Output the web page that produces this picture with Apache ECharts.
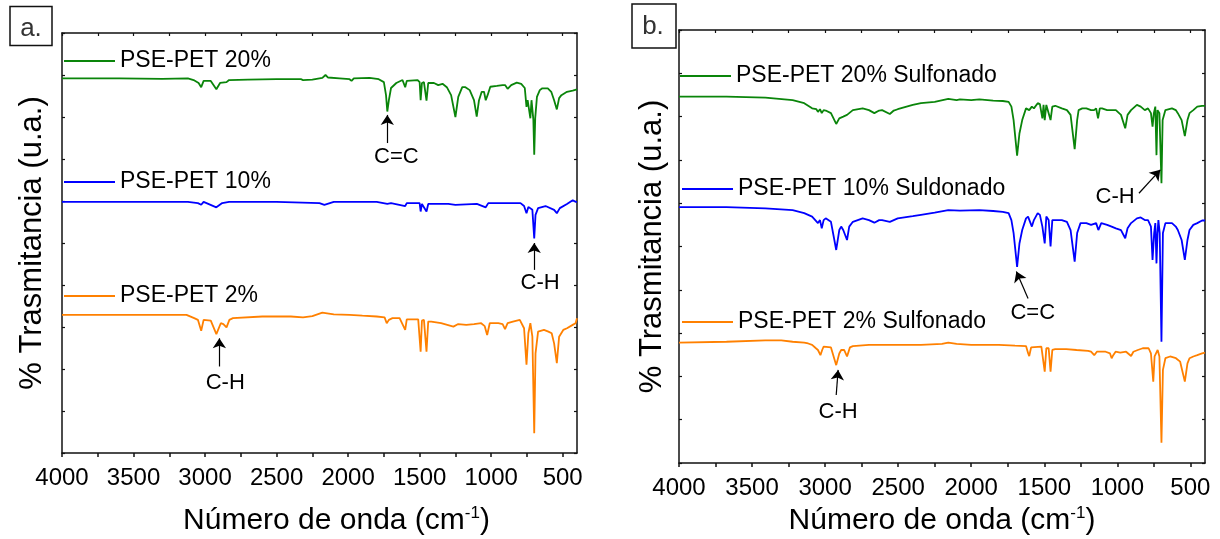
<!DOCTYPE html>
<html>
<head>
<meta charset="utf-8">
<script src="https://cdn.jsdelivr.net/npm/echarts@6/dist/echarts.min.js"></script>
<style>
html,body{margin:0;padding:0;background:#fff;}
#chart{width:1220px;height:539px;}
</style>
</head>
<body>
<div id="chart"></div>
<script>
// ---------- DATA ----------
// x: wavenumber (cm-1), y: % transmittance (arbitrary, offset)
const xTickValues = [4000,3750,3500,3250,3000,2750,2500,2250,2000,1750,1500,1250,1000,750,500];
const xLabelValues = [4000,3500,3000,2500,2000,1500,1000,500];

const pse20 = [[4000,89.2],[3600,89.2],[3300,89.1],[3120,89.2],[3080,88.8],[3045,88.1],[3027,87.1],[3010,88.6],[2960,88.6],[2921,86.6],[2895,88.1],[2850,88.3],[2832,88.8],[2700,88.9],[2500,89.0],[2330,89.0],[2315,88.8],[2250,88.9],[2180,89.3],[2158,90.0],[2140,89.4],[2060,89.2],[1990,89.0],[1976,88.6],[1960,89.2],[1850,89.3],[1786,89.0],[1750,88.3],[1735,85.2],[1726,81.3],[1715,84.0],[1700,86.9],[1663,88.1],[1620,88.8],[1601,87.1],[1590,88.6],[1514,88.8],[1500,88.3],[1493,84.0],[1484,88.1],[1470,88.3],[1452,83.9],[1440,88.1],[1432,88.4],[1400,88.1],[1370,87.6],[1340,87.9],[1310,87.1],[1280,85.2],[1250,80.0],[1230,84.8],[1202,87.1],[1180,87.1],[1150,86.4],[1120,84.0],[1101,80.1],[1085,84.0],[1066,86.0],[1050,86.0],[1038,84.0],[1025,85.2],[1006,87.2],[960,87.4],[920,87.6],[903,87.6],[885,86.7],[875,86.4],[860,87.6],[821,88.2],[790,87.9],[780,87.6],[765,86.9],[753,82.4],[745,84.0],[734,83.6],[726,79.7],[718,84.0],[712,84.0],[705,79.3],[699,71.0],[692,79.8],[680,84.8],[660,86.4],[645,86.8],[604,86.8],[580,86.0],[560,84.0],[541,81.8],[525,84.5],[509,85.2],[470,86.0],[430,86.3],[400,86.6]];

const pse10 = [[4000,59.8],[3120,59.8],[3050,59.5],[3027,59.1],[3010,59.8],[2921,58.5],[2880,59.5],[2832,59.8],[2500,59.8],[2200,59.5],[2166,59.1],[2100,59.8],[1800,59.8],[1726,59.3],[1700,59.5],[1601,58.8],[1590,59.5],[1500,59.5],[1493,57.5],[1484,59.3],[1452,57.5],[1440,59.3],[1300,59.3],[1250,59.1],[1100,59.3],[1038,58.5],[1020,59.5],[900,59.5],[795,59.5],[770,58.8],[753,57.1],[740,58.6],[712,57.9],[699,51.1],[690,56.7],[672,58.3],[620,58.8],[560,57.9],[541,57.1],[520,58.3],[470,59.3],[430,60.2],[410,59.8],[400,59.8]];

const pse2 = [[4000,32.9],[3130,32.9],[3076,32.1],[3050,31.7],[3027,29.1],[3010,31.7],[2960,31.5],[2921,28.3],[2890,30.9],[2872,30.7],[2850,29.9],[2830,31.7],[2805,32.1],[2600,32.5],[2400,32.5],[2315,32.3],[2250,32.6],[2180,33.4],[2158,33.3],[2100,33.0],[1989,32.9],[1900,32.7],[1800,32.5],[1745,32.3],[1730,30.9],[1715,31.7],[1690,32.1],[1640,32.1],[1601,29.3],[1590,31.8],[1510,31.8],[1493,24.1],[1484,31.5],[1470,31.7],[1452,24.1],[1440,31.3],[1419,31.3],[1350,30.9],[1264,30.1],[1230,30.7],[1174,30.5],[1120,30.7],[1070,30.9],[1045,30.2],[1028,28.1],[1010,30.9],[950,30.9],[920,30.7],[903,29.5],[885,30.9],[848,31.3],[800,31.7],[790,31.7],[770,29.7],[753,21.0],[740,28.5],[726,30.9],[712,27.7],[699,4.7],[690,23.7],[672,28.9],[631,29.3],[600,28.9],[577,28.5],[560,26.1],[541,21.4],[525,27.7],[496,29.3],[470,29.7],[430,30.5],[410,30.9],[400,32.1]];

const pse20s = [[4000,84.6],[3675,84.6],[3409,84.4],[3222,83.8],[3143,83.1],[3089,81.9],[3060,81.7],[3049,81.1],[3035,81.7],[3023,80.8],[3010,81.5],[2996,81.4],[2960,80.8],[2924,78.3],[2903,79.6],[2876,80.0],[2850,80.4],[2810,81.5],[2743,81.9],[2700,81.5],[2663,80.8],[2630,81.4],[2610,81.5],[2557,80.6],[2530,81.4],[2503,81.7],[2400,82.7],[2344,83.1],[2250,83.4],[2157,84.1],[2100,83.8],[2077,84.0],[2000,83.8],[1944,84.0],[1850,83.7],[1784,83.6],[1744,83.4],[1725,82.3],[1710,79.2],[1686,71.0],[1670,76.1],[1651,79.2],[1625,81.9],[1603,81.5],[1585,82.3],[1571,81.9],[1545,83.1],[1530,82.9],[1513,79.6],[1505,82.7],[1497,79.2],[1486,82.7],[1478,83.1],[1457,79.2],[1445,82.3],[1425,82.5],[1412,82.3],[1380,81.9],[1345,81.5],[1320,80.4],[1292,72.5],[1275,79.2],[1265,81.5],[1240,81.9],[1212,81.9],[1180,81.5],[1159,81.5],[1145,81.9],[1132,79.6],[1120,81.9],[1105,81.9],[1070,81.5],[1039,81.5],[1010,81.5],[975,80.4],[946,77.3],[930,80.4],[906,81.5],[866,82.7],[840,82.3],[812,81.5],[790,81.9],[770,80.8],[759,77.7],[750,80.8],[740,82.3],[732,71.1],[725,81.5],[719,81.9],[712,80.8],[698,64.6],[690,79.2],[671,81.5],[626,81.9],[600,81.5],[586,80.8],[560,79.2],[538,75.5],[520,79.2],[506,80.8],[480,81.5],[453,82.3],[420,82.5],[400,82.5]];

const pse10s = [[4000,59.1],[3675,59.1],[3409,58.8],[3222,58.4],[3143,57.7],[3089,56.9],[3076,56.5],[3049,55.4],[3035,56.1],[3023,54.2],[3010,56.1],[2996,56.5],[2960,55.7],[2924,49.2],[2903,53.8],[2890,54.6],[2876,53.8],[2850,51.5],[2835,54.6],[2810,55.7],[2743,56.5],[2700,56.1],[2663,55.5],[2630,56.1],[2610,56.1],[2557,55.7],[2503,56.5],[2400,57.0],[2344,57.3],[2250,57.8],[2157,58.4],[2077,58.3],[1944,58.4],[1850,58.2],[1784,58.0],[1744,57.7],[1725,56.1],[1710,53.1],[1686,45.3],[1670,50.7],[1651,53.8],[1625,56.5],[1611,56.9],[1585,54.6],[1571,56.1],[1545,57.7],[1530,57.3],[1513,54.6],[1497,50.7],[1486,56.9],[1470,56.1],[1457,50.0],[1445,56.1],[1425,56.1],[1380,56.1],[1345,55.7],[1320,53.8],[1292,46.5],[1275,53.1],[1252,55.4],[1212,55.4],[1180,55.0],[1145,55.4],[1130,53.8],[1110,55.4],[1070,55.0],[1039,54.6],[1010,54.2],[975,53.8],[946,51.9],[930,54.2],[906,55.4],[866,56.5],[840,56.7],[812,56.1],[790,56.1],[770,54.6],[759,46.9],[748,53.1],[740,55.4],[732,46.1],[725,53.1],[719,56.1],[710,53.1],[698,28.0],[688,53.1],[671,55.4],[626,55.4],[600,54.6],[586,53.8],[560,51.5],[538,46.9],[520,51.5],[506,53.8],[480,55.0],[453,55.4],[420,56.0],[400,56.0]];

const pse2s = [[4000,27.8],[3675,28.0],[3409,28.3],[3300,28.3],[3222,28.0],[3143,27.8],[3116,27.6],[3089,27.3],[3063,26.5],[3049,26.1],[3032,24.9],[3020,26.1],[3010,26.9],[2960,26.7],[2924,22.6],[2903,25.3],[2890,26.1],[2870,26.1],[2850,24.6],[2830,26.7],[2810,27.0],[2700,27.3],[2500,27.3],[2344,27.3],[2200,27.5],[2157,27.8],[2100,27.5],[2000,27.3],[1811,27.3],[1700,27.1],[1625,27.0],[1610,25.3],[1603,24.7],[1590,26.7],[1520,26.9],[1497,21.1],[1486,26.5],[1470,26.5],[1457,21.1],[1445,26.1],[1425,26.3],[1350,26.3],[1279,26.1],[1200,25.9],[1180,25.7],[1158,24.9],[1140,25.7],[1118,25.7],[1080,25.7],[1050,25.3],[1039,24.2],[1028,24.9],[1012,25.7],[980,25.5],[940,25.7],[906,24.7],[890,25.7],[860,26.1],[826,26.5],[786,26.5],[770,25.3],[754,18.8],[745,24.6],[724,26.1],[712,24.6],[698,4.7],[688,21.5],[671,24.2],[639,24.6],[599,24.2],[570,23.4],[538,18.8],[520,23.0],[506,24.2],[480,24.6],[453,24.9],[420,25.3],[400,25.5]];

const seriesNamesA = ['PSE-PET 20%', 'PSE-PET 10%', 'PSE-PET 2%'];
const seriesNamesB = ['PSE-PET 20% Sulfonado', 'PSE-PET 10% Suldonado', 'PSE-PET 2% Sulfonado'];

// annotations: arrow from -> to (data coords), label position
const annotationsA = [
  {text:'C=C', from:[1726,73.8], to:[1726,80.5], label:[1663,70.6]},
  {text:'C-H', from:[699,43.6], to:[699,50.0], label:[658,40.4]},
  {text:'C-H', from:[2900,20.6], to:[2900,27.3], label:[2859,16.6]}
];
const annotationsB = [
  {text:'C-H', from:[852,62.3], to:[706,67.7], label:[1015,61.5]},
  {text:'C=C', from:[1611,38.0], to:[1691,44.2], label:[1579,34.6]},
  {text:'C-H', from:[2924,15.7], to:[2911,21.5], label:[2911,11.9]}
];

// ---------- CHART ----------
const FONT = '"Liberation Sans", Arial, sans-serif';
const GREEN = '#0a850a', BLUE = '#0000ff', ORANGE = '#ff8000';
const AXIS_COLOR = '#111';

function xAxesFor(grid, nameGap, namePad) {
  const common = {
    type: 'value', gridIndex: grid, min: 400, max: 4000, inverse: true,
    splitLine: {show: false},
    axisLine: {show: true, onZero: false, lineStyle: {color: AXIS_COLOR, width: 1.5}}
  };
  return [
    Object.assign({}, common, {
      position: 'bottom',
      axisTick: {show: true, inside: false, length: 4, customValues: xTickValues, lineStyle: {color: AXIS_COLOR, width: 1.5}},
      axisLabel: {show: true, customValues: xLabelValues, margin: 13, fontSize: 24, color: '#000', fontFamily: FONT,
                  formatter: v => String(v)},
      name: '{t|Número de onda (cm}{s|-1}{t|)}',
      nameLocation: 'middle', nameGap: nameGap,
      nameTextStyle: {
        padding: namePad,
        rich: {
          t: {fontSize: 30, fontFamily: FONT, color: '#000', lineHeight: 32},
          s: {fontSize: 17, fontFamily: FONT, color: '#000', verticalAlign: 'top', lineHeight: 20}
        }
      }
    }),
    Object.assign({}, common, {
      position: 'top',
      axisTick: {show: true, inside: true, length: 3, customValues: xTickValues, lineStyle: {color: AXIS_COLOR, width: 1.2}},
      axisLabel: {show: false}
    })
  ];
}
function yAxesFor(grid, nameGap) {
  const common = {
    type: 'value', gridIndex: grid, min: 0, max: 100, interval: 10,
    splitLine: {show: false},
    axisLine: {show: true, onZero: false, lineStyle: {color: AXIS_COLOR, width: 1.5}},
    axisTick: {show: true, inside: true, length: 3, lineStyle: {color: AXIS_COLOR, width: 1.2}},
    axisLabel: {show: false}
  };
  return [
    Object.assign({}, common, {
      position: 'left',
      name: '% Trasmitancia (u.a.)', nameLocation: 'middle', nameGap: nameGap,
      nameTextStyle: {fontSize: 31, fontFamily: FONT, color: '#000'}
    }),
    Object.assign({}, common, {position: 'right'})
  ];
}

function lineSeries(name, data, color, xi, yi, extra) {
  return Object.assign({
    name: name, type: 'line', data: data, xAxisIndex: xi, yAxisIndex: yi,
    showSymbol: false, symbol: 'none', smooth: false,
    lineStyle: {color: color, width: 1.8}, itemStyle: {color: color},
    emphasis: {disabled: true}, silent: true, animation: false
  }, extra || {});
}

function annotationMarks(list) {
  return {
    markLine: {
      silent: true, animation: false,
      symbol: ['none', 'arrow'], symbolSize: 10,
      label: {show: false},
      itemStyle: {color: '#000'},
      lineStyle: {color: '#000', width: 1.2, type: 'solid'},
      emphasis: {disabled: true},
      data: list.map(a => [{coord: a.from}, {coord: a.to}])
    },
    markPoint: {
      silent: true, animation: false,
      symbol: 'circle', symbolSize: 1,
      itemStyle: {color: 'rgba(0,0,0,0)'},
      label: {show: true, position: 'inside', color: '#000', fontSize: 22, fontFamily: FONT,
              formatter: p => p.name},
      data: list.map(a => ({name: a.text, coord: a.label}))
    }
  };
}

function legendAt(name, left, cy) {
  return {
    data: [name], left: left, top: cy - 12, padding: 0,
    icon: 'rect', itemWidth: 51, itemHeight: 2, selectedMode: false,
    textStyle: {fontSize: 23, color: '#000', fontFamily: FONT, lineHeight: 24}
  };
}

const chart = echarts.init(document.getElementById('chart'), null, {renderer: 'canvas'});
chart.setOption({
  animation: false,
  backgroundColor: '#fff',
  grid: [
    {left: 62, top: 33, width: 515, height: 420, outerBoundsMode: 'none', containLabel: false},
    {left: 679, top: 30, width: 526, height: 433, outerBoundsMode: 'none', containLabel: false}
  ],
  xAxis: [].concat(xAxesFor(0, 52, [0, 0, 0, 34]), xAxesFor(1, 37, [0, 0, 0, 0])),
  yAxis: [].concat(yAxesFor(0, 14), yAxesFor(1, 11)),
  legend: [
    legendAt(seriesNamesA[0], 64, 61),
    legendAt(seriesNamesA[1], 64, 182),
    legendAt(seriesNamesA[2], 64, 296),
    legendAt(seriesNamesB[0], 680, 76),
    legendAt(seriesNamesB[1], 682, 189),
    legendAt(seriesNamesB[2], 682, 322)
  ],
  series: [
    lineSeries(seriesNamesA[0], pse20, GREEN, 0, 0),
    lineSeries(seriesNamesA[1], pse10, BLUE, 0, 0),
    lineSeries(seriesNamesA[2], pse2, ORANGE, 0, 0, annotationMarks(annotationsA)),
    lineSeries(seriesNamesB[0], pse20s, GREEN, 2, 2),
    lineSeries(seriesNamesB[1], pse10s, BLUE, 2, 2),
    lineSeries(seriesNamesB[2], pse2s, ORANGE, 2, 2, annotationMarks(annotationsB))
  ],
  graphic: [
    {type: 'rect', shape: {x: 10, y: 6.5, width: 42, height: 39}, style: {fill: '#fff', stroke: '#111', lineWidth: 1.5}},
    {type: 'text', style: {x: 31, y: 28.5, text: 'a.', font: '26px ' + FONT, fill: '#333', textAlign: 'center', textVerticalAlign: 'middle'}},
    {type: 'rect', shape: {x: 632, y: 4, width: 44, height: 44}, style: {fill: '#fff', stroke: '#111', lineWidth: 1.5}},
    {type: 'text', style: {x: 653, y: 26.5, text: 'b.', font: '26px ' + FONT, fill: '#333', textAlign: 'center', textVerticalAlign: 'middle'}}
  ]
});
</script>
</body>
</html>
